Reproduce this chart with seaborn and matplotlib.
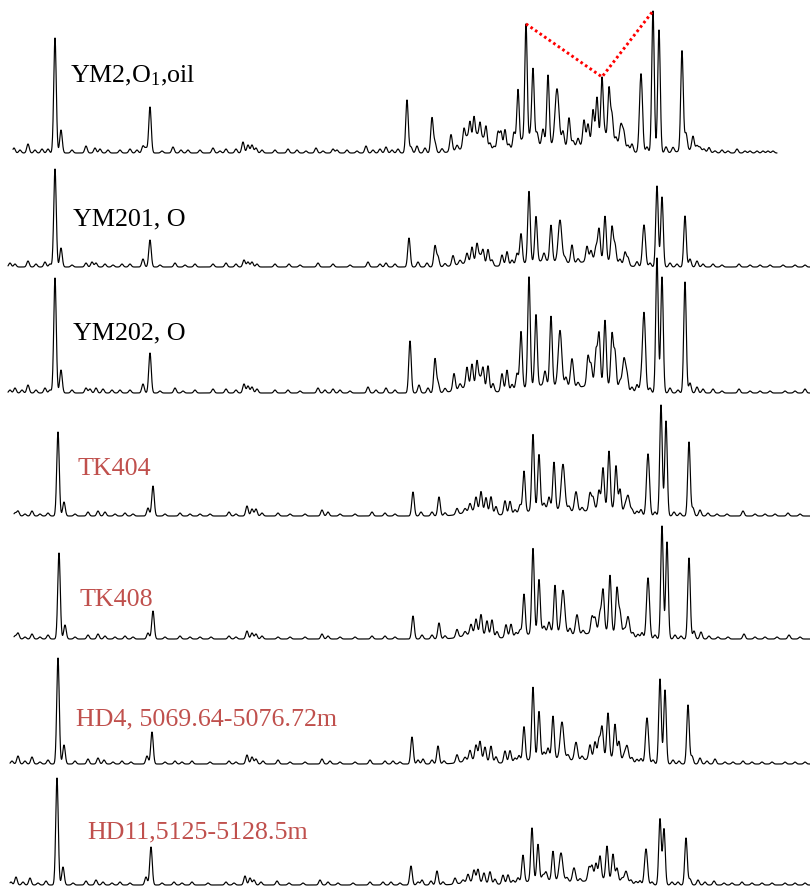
import numpy as np
import pandas as pd
import matplotlib
matplotlib.use("Agg")
import matplotlib.pyplot as plt
import seaborn as sns

# ---------------------------------------------------------------------------
# Data: stacked chromatograms, one peak table per sample.
# Each peak: (retention, intensity) or (retention, intensity, sigma).
# ---------------------------------------------------------------------------
samples = ["YM2,O$_1$,oil", "YM201, O", "YM202, O", "TK404", "TK408",
           "HD4, 5069.64-5076.72m", "HD11,5125-5128.5m"]
sample_group = ["oil", "oil", "oil", "extract", "extract", "extract", "extract"]

scan_start = [13, 8, 8, 14, 14, 10, 10]
scan_end = [777, 810, 810, 810, 810, 810, 810]

peaks_ym2 = [
    (14, 5), (20, 3), (28, 9), (35, 3), (42, 4), (48, 4),
    (55, 115), (61, 23),
    (72, 3), (86, 7), (95, 5), (100, 4), (108, 3), (120, 3), (130, 4), (137, 3),
    (143, 7), (146, 5), (150, 46),
    (162, 2), (173, 6), (181, 3), (188, 3), (200, 3), (213, 5), (220, 2), (226, 4),
    (236, 4), (243, 11), (248, 8), (252, 8), (256, 5), (262, 3), (275, 3), (288, 4),
    (297, 3), (306, 2), (316, 5), (323, 2), (333, 4), (337, 3), (347, 3), (357, 2),
    (366, 7), (373, 3), (380, 4), (386, 6), (392, 3), (398, 4),
    (407, 53), (411, 6), (417, 7), (425, 5), (432, 35), (435, 10), (442, 4), (451, 17),
    (457, 5), (464, 20), (467, 10), (470, 26), (474, 31), (477, 12), (480, 26),
    (483, 10), (486, 24), (490, 8), (494, 5), (498, 19), (501, 19), (505, 21), (509, 6),
    (514, 17), (518, 59), (522, 8), (526, 123), (530, 10), (533, 77), (537, 13),
    (543, 16), (548, 70), (557, 57, 2.0), (563, 15), (569, 29), (573, 6), (578, 8),
    (584, 25), (588, 20), (593, 33), (597, 45), (602, 65), (605, 10), (609, 56),
    (612, 30), (616, 10), (621, 25, 1.6), (624, 15), (628, 6), (632, 8), (641, 79, 1.5),
    (647, 6), (653, 142), (659, 123), (666, 6), (673, 5), (682, 100), (686, 17),
    (693, 14), (697, 5), (700, 4), (704, 3), (709, 5), (715, 2), (722, 3), (728, 2),
    (737, 4), (745, 2), (750, 2), (757, 2), (763, 2), (768, 2), (773, 2),
]
peaks_ym201 = [
    (10, 4), (15, 3), (28, 6), (36, 3), (45, 5), (50, 3),
    (55, 98), (61, 19),
    (72, 2), (86, 4), (92, 5), (96, 4), (105, 3), (113, 2), (122, 3), (130, 3),
    (143, 8), (150, 27),
    (160, 2), (175, 4), (185, 2), (195, 3), (213, 3), (226, 4), (236, 3), (244, 7),
    (248, 5), (252, 5), (257, 3), (275, 3), (289, 3), (300, 2), (318, 4), (333, 3),
    (350, 2), (368, 5), (380, 3), (386, 4), (395, 3),
    (409, 29), (418, 5), (427, 4), (435, 21), (438, 10), (445, 3), (453, 10), (460, 4),
    (467, 10), (472, 16), (477, 20), (480, 8), (483, 15), (488, 16), (492, 6),
    (502, 11), (507, 14), (512, 5), (517, 11), (521, 30), (529, 71), (536, 45),
    (544, 8), (551, 36), (560, 42, 1.8), (565, 5), (572, 18), (578, 4), (587, 15),
    (591, 10), (596, 13), (599, 31), (605, 44), (612, 35), (615, 18), (620, 5),
    (625, 13), (628, 8), (637, 5), (644, 42, 1.5), (650, 4), (657, 81), (662, 70),
    (670, 4), (677, 3), (685, 51), (690, 8), (697, 6), (703, 3), (713, 3), (722, 2),
    (739, 3), (750, 2), (760, 2), (770, 2), (783, 2), (795, 2), (805, 2),
]
peaks_ym202 = [
    (10, 3), (15, 5), (22, 3), (28, 8), (36, 3), (45, 5), (50, 3),
    (55, 115), (61, 23),
    (72, 3), (86, 5), (90, 4), (96, 5), (103, 4), (112, 3), (120, 3), (130, 3),
    (143, 9), (150, 40),
    (160, 2), (175, 5), (183, 2), (195, 3), (213, 4), (226, 4), (236, 3), (244, 9),
    (248, 7), (252, 6), (257, 4), (275, 3), (288, 3), (300, 2), (318, 5), (325, 3),
    (333, 4), (340, 3), (350, 2), (368, 6), (376, 3), (386, 5), (395, 3),
    (410, 52), (419, 8), (428, 5), (435, 34), (438, 10), (445, 4), (454, 17), (460, 5),
    (467, 20), (472, 23), (477, 27), (480, 10), (483, 22), (488, 25), (493, 8),
    (502, 18), (507, 21), (512, 6), (517, 16), (521, 57), (529, 110), (536, 71),
    (545, 14), (551, 69), (560, 56, 1.8), (566, 10), (572, 29, 1.5), (578, 5),
    (588, 29), (591, 20), (596, 33), (599, 50), (605, 64), (612, 52), (615, 35),
    (620, 8), (624, 32, 1.6), (627, 15), (632, 5), (637, 8), (641, 10), (644, 80, 1.5),
    (650, 5), (657, 135), (662, 116), (670, 5), (678, 3), (685, 111), (690, 10),
    (697, 6), (703, 4), (713, 4), (722, 2), (739, 4), (750, 2), (760, 2), (770, 2),
    (785, 2), (795, 2), (805, 4),
]
peaks_tk404 = [
    (15, 3), (18, 5), (25, 2), (32, 5), (40, 2), (48, 3),
    (58, 84), (64, 14),
    (75, 2), (88, 4), (98, 5), (105, 4), (115, 2), (125, 3), (133, 2), (148, 8),
    (153, 30),
    (165, 2), (180, 3), (190, 2), (200, 2), (210, 2), (229, 4), (236, 2), (247, 10),
    (252, 7), (256, 7), (262, 3), (278, 3), (290, 2), (305, 2), (322, 6), (328, 4),
    (340, 2), (355, 2), (372, 4), (385, 3), (395, 2),
    (413, 24), (421, 4), (432, 4), (439, 19), (445, 3), (457, 6), (465, 4), (470, 8),
    (476, 14), (481, 20), (486, 15), (491, 17), (496, 8), (505, 14), (510, 13),
    (515, 4), (520, 8), (524, 41), (533, 76), (539, 55), (544, 6), (549, 12),
    (554, 47), (563, 46, 1.8), (569, 5), (576, 20, 1.5), (582, 4), (590, 17),
    (593, 12), (599, 18), (603, 40), (609, 57), (616, 44), (620, 22), (625, 6),
    (628, 18, 1.6), (632, 5), (637, 4), (641, 6), (648, 62, 1.5), (655, 4), (661, 111),
    (666, 95), (674, 4), (680, 3), (689, 74), (693, 8), (700, 6), (708, 3), (717, 2),
    (727, 2), (743, 5), (755, 2), (765, 2), (775, 2), (788, 3), (800, 2),
]
peaks_tk408 = [
    (15, 3), (18, 6), (25, 2), (32, 5), (40, 2), (48, 4),
    (59, 86), (65, 14),
    (75, 2), (88, 4), (98, 5), (105, 3), (115, 2), (125, 3), (133, 2), (148, 6),
    (153, 28),
    (165, 2), (180, 3), (190, 2), (200, 2), (211, 2), (229, 3), (236, 2), (247, 8),
    (252, 6), (256, 5), (262, 3), (278, 2), (290, 2), (305, 2), (322, 5), (328, 3),
    (340, 2), (355, 2), (372, 3), (385, 3), (395, 2),
    (413, 23), (422, 4), (432, 4), (439, 16), (445, 3), (457, 8), (465, 4), (471, 10),
    (476, 15), (481, 20), (487, 15), (492, 17), (497, 6), (506, 13), (511, 13),
    (516, 4), (520, 6), (524, 41), (533, 85), (539, 53), (544, 6), (549, 10),
    (555, 47), (563, 43, 1.8), (570, 6), (577, 20, 1.5), (583, 4), (592, 16),
    (595, 14), (600, 18), (603, 41), (610, 56), (617, 45), (620, 22), (624, 6),
    (628, 20, 1.6), (633, 5), (638, 4), (642, 6), (648, 61, 1.5), (655, 4), (662, 113),
    (667, 97), (675, 4), (681, 3), (689, 81), (694, 8), (701, 7), (709, 3), (718, 2),
    (728, 2), (744, 5), (755, 2), (765, 2), (777, 2), (789, 4), (800, 2),
]
peaks_hd4 = [
    (12, 3), (18, 8), (25, 3), (32, 7), (40, 2), (48, 4),
    (58, 106), (64, 19),
    (75, 3), (88, 5), (98, 6), (104, 4), (113, 2), (122, 3), (131, 2), (147, 8),
    (152, 32),
    (165, 2), (175, 3), (182, 2), (192, 3), (210, 2), (229, 3), (236, 2), (247, 9),
    (252, 7), (256, 5), (263, 3), (278, 4), (290, 2), (305, 2), (322, 5), (330, 3),
    (340, 2), (355, 2), (370, 4), (385, 3), (393, 3), (400, 2),
    (412, 27), (418, 4), (423, 5), (432, 4), (438, 18), (444, 3), (457, 8), (465, 4),
    (470, 10), (476, 15), (480, 19), (485, 14), (491, 16), (496, 6), (505, 12),
    (510, 12), (515, 4), (519, 6), (524, 34), (533, 72), (539, 47), (544, 6),
    (548, 10), (553, 42), (562, 37, 1.8), (568, 5), (576, 18, 1.5), (582, 4),
    (590, 14), (595, 16), (599, 18), (602, 30), (608, 44), (615, 34), (619, 18),
    (624, 5), (627, 16, 1.6), (632, 5), (637, 4), (641, 5), (647, 46, 1.5), (653, 4),
    (660, 85), (665, 74), (673, 4), (679, 3), (688, 59), (692, 8), (700, 6), (707, 3),
    (715, 5), (725, 2), (733, 2), (743, 3), (752, 2), (762, 2), (772, 2), (785, 2),
    (795, 2), (805, 2),
]
peaks_hd11 = [
    (11, 3), (16, 8), (23, 3), (30, 7), (38, 2), (46, 4),
    (57, 107), (63, 18),
    (73, 2), (86, 4), (96, 5), (103, 3), (112, 2), (120, 3), (130, 2), (146, 8),
    (151, 38),
    (162, 2), (174, 3), (182, 2), (192, 3), (208, 2), (226, 3), (234, 2), (245, 9),
    (250, 7), (254, 5), (261, 3), (277, 4), (289, 2), (303, 2), (320, 5), (328, 3),
    (338, 2), (353, 2), (370, 3), (383, 3), (391, 3), (400, 2),
    (411, 19), (418, 3), (422, 5), (431, 4), (437, 14), (443, 3), (455, 6), (463, 3),
    (468, 8), (474, 12), (478, 13), (484, 10), (490, 12), (495, 5), (503, 9),
    (508, 9), (513, 3), (518, 5), (523, 27), (532, 53), (538, 36), (543, 5),
    (546, 8), (553, 29), (561, 28, 1.8), (567, 4), (574, 14, 1.5), (580, 3),
    (589, 13), (592, 14), (596, 16), (600, 23), (607, 33), (613, 26), (617, 13),
    (622, 4), (626, 12, 1.6), (631, 4), (636, 3), (640, 4), (646, 36, 1.5), (652, 3),
    (660, 66), (664, 56), (672, 3), (678, 3), (686, 47), (690, 6), (698, 5), (705, 3),
    (714, 4), (724, 2), (732, 2), (742, 3), (752, 2), (762, 2), (772, 2), (785, 2),
    (795, 2), (805, 2),
]
peak_tables = [peaks_ym2, peaks_ym201, peaks_ym202, peaks_tk404, peaks_tk408,
               peaks_hd4, peaks_hd11]

# Unresolved complex mixture humps under the resolved peaks
hump_ym2 = [(470, 5, 12), (545, 8, 25), (600, 10, 15), (690, 3, 10)]
hump_ym201 = [(470, 4, 12), (545, 6, 22), (600, 7, 15)]
hump_ym202 = [(470, 6, 12), (545, 8, 22), (600, 9, 15)]
hump_tk404 = [(475, 5, 12), (548, 7, 22), (605, 8, 15)]
hump_tk408 = [(475, 5, 12), (548, 7, 22), (605, 8, 15)]
hump_hd4 = [(475, 4, 12), (548, 6, 22), (605, 7, 15)]
hump_hd11 = [(473, 3, 12), (546, 5, 22), (603, 6, 15)]
hump_tables = [hump_ym2, hump_ym201, hump_ym202, hump_tk404, hump_tk408,
               hump_hd4, hump_hd11]

# Peaks of the YM2 trace joined by the ratio guide line
ratio_peaks_ym2 = [526, 602, 653]

# ---------------------------------------------------------------------------
# Layout (pixels, figure is 810 x 889)
# ---------------------------------------------------------------------------
W, H = 810, 889
DEFAULT_SIGMA = 1.25
baselines_px = [153, 267, 393, 516, 639, 764, 885]
label_xy_px = [(70, 82), (73, 225), (73, 339), (78, 475), (80, 606),
               (76, 725), (87, 838)]
group_colors = {"oil": "#000000", "extract": "#C0504D"}
panel_span = 170


def build_signal(rt, peaks, humps):
    y = np.zeros_like(rt)
    for p in list(peaks) + list(humps):
        center, height = p[0], p[1]
        sigma = p[2] if len(p) > 2 else DEFAULT_SIGMA
        y += height * np.exp(-0.5 * ((rt - center) / sigma) ** 2)
    return y


sns.set_theme(style="white")
plt.rcParams["font.family"] = ["Liberation Serif", "DejaVu Serif"]
plt.rcParams["mathtext.default"] = "regular"

fig = plt.figure(figsize=(W / 100, H / 100), dpi=100)
fig.patch.set_facecolor("white")

for i, name in enumerate(samples):
    rt = np.arange(scan_start[i], scan_end[i] + 0.01, 0.25)
    sig = build_signal(rt, peak_tables[i], hump_tables[i])
    frame = pd.DataFrame({"retention": rt, "intensity": sig})

    bottom = (H - baselines_px[i]) / H
    ax = fig.add_axes([0, bottom, 1, panel_span / H])
    ax.patch.set_alpha(0)
    sns.lineplot(data=frame, x="retention", y="intensity", ax=ax,
                 color="black", linewidth=0.85, estimator=None, sort=False)
    if i == 0:
        guide_y = build_signal(np.array(ratio_peaks_ym2, dtype=float),
                               peak_tables[i], hump_tables[i])
        sns.lineplot(x=ratio_peaks_ym2, y=guide_y, ax=ax, color="#FF0000",
                     linewidth=2.1, linestyle=(0, (0.9, 1.0)),
                     estimator=None, sort=False)
    for line in ax.lines:
        line.set_clip_on(False)
    ax.set_xlim(0, W)
    ax.set_ylim(0, panel_span)
    ax.set_axis_off()

    lx, ly = label_xy_px[i]
    fig.text(lx / W, 1 - ly / H, name, ha="left", va="baseline",
             fontsize=18.7, color=group_colors[sample_group[i]])

fig.savefig("out.png", dpi=100, facecolor="white")
